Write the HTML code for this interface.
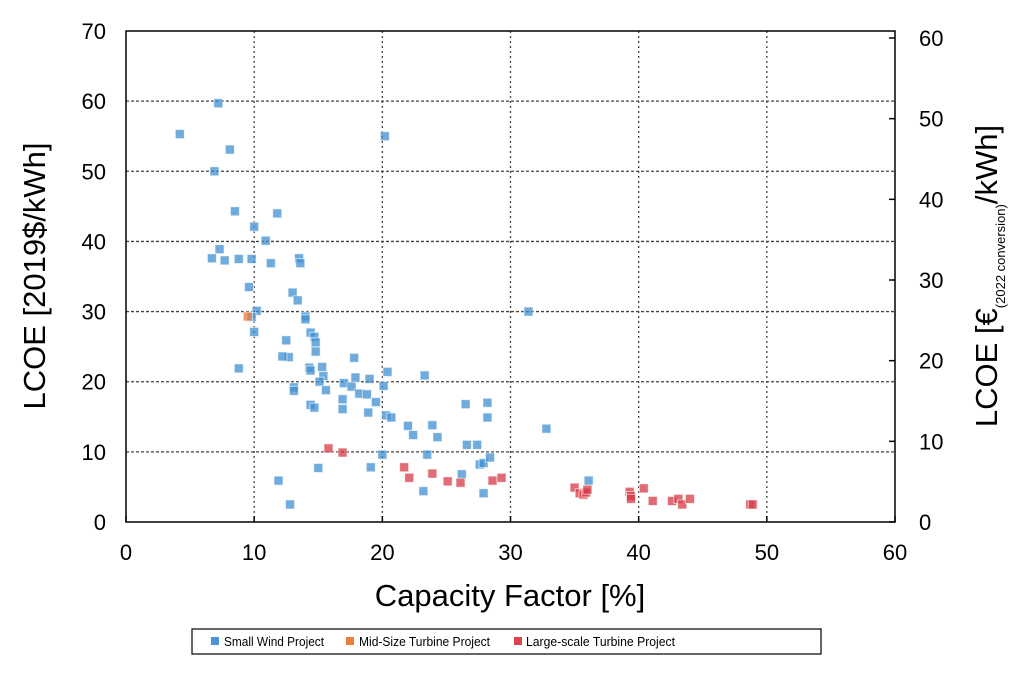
<!DOCTYPE html>
<html><head><meta charset="utf-8"><style>
body{margin:0;background:#fff;font-family:"Liberation Sans",Arial,sans-serif}
svg text{font-family:"Liberation Sans",Arial,sans-serif}
</style></head><body>
<svg id="chart" width="1028" height="679" xmlns="http://www.w3.org/2000/svg">
<g id="grid"></g>
<g id="marks"></g>
<rect x="126" y="31" width="769" height="491" fill="none" stroke="#000" stroke-width="1.5"/>
<g id="axes"></g>
<text x="45" y="276" font-size="31" text-anchor="middle" transform="rotate(-90 45 276)">LCOE [2019$/kWh]</text>
<text x="997" y="276" font-size="31" text-anchor="middle" transform="rotate(-90 997 276)">LCOE [€<tspan font-size="13" dy="8">(2022 conversion)</tspan><tspan dy="-8">/kWh]</tspan></text>
<text x="510" y="606" font-size="31" text-anchor="middle">Capacity Factor [%]</text>
<g>
<rect x="192" y="629" width="629" height="25" fill="#fff" stroke="#000" stroke-width="1.2"/>
<rect x="211" y="637" width="8" height="8" fill="#4a95d6"/>
<text x="224" y="646" font-size="13" textLength="100" lengthAdjust="spacingAndGlyphs">Small Wind Project</text>
<rect x="346" y="637" width="8" height="8" fill="#ea7d3a"/>
<text x="359" y="646" font-size="13" textLength="131" lengthAdjust="spacingAndGlyphs">Mid-Size Turbine Project</text>
<rect x="514" y="637" width="8" height="8" fill="#d9444f"/>
<text x="526" y="646" font-size="13" textLength="149" lengthAdjust="spacingAndGlyphs">Large-scale  Turbine Project</text>
</g>
</svg>
<script>
const xTicks=[0,10,20,30,40,50,60];
const yTicks=[0,10,20,30,40,50,60,70];
const y2Ticks=[0,10,20,30,40,50,60];
const smallX=[4.2,7.2,6.9,8.1,8.5,7.3,6.7,7.7,8.8,9.8,10,10.9,11.8,11.3,13.5,13.6,9.6,13,13.4,14,14,10.2,10,14.4,14.7,14.8,14.8,12.5,12.7,12.2,8.8,14.3,14.4,15.3,15.4,15.1,15.6,13.1,13.1,17,17.8,17.9,17.6,18.2,19,18.8,20.4,20.1,20.3,20.7,19.5,18.9,16.9,16.9,14.4,14.7,23.3,22,22.4,23.9,24.3,26.5,28.2,28.2,26.6,27.4,27.6,27.9,28.4,23.5,20,19.1,15,11.9,12.8,23.2,26.2,27.9,36.1,31.4,32.8,20.2,9.8];
const smallY=[55.3,59.7,50,53.1,44.3,38.9,37.6,37.3,37.5,37.5,42.1,40.1,44,36.9,37.6,36.9,33.5,32.7,31.6,29.3,28.9,30.1,27.1,27,26.4,25.6,24.3,25.9,23.5,23.6,21.9,22,21.6,22.1,20.8,20,18.8,19.2,18.7,19.8,23.4,20.6,19.3,18.3,20.4,18.2,21.4,19.4,15.2,14.9,17.1,15.6,17.5,16.1,16.7,16.3,20.9,13.7,12.4,13.8,12.1,16.8,17,14.9,11,11,8.2,8.4,9.2,9.6,9.6,7.8,7.7,5.9,2.5,4.4,6.8,4.1,5.9,30,13.3,55,29.2];
const midX=[9.5];
const midY=[29.3];
const largeX=[15.8,16.9,21.7,22.1,23.9,25.1,26.1,28.6,29.3,35,35.4,35.7,35.9,36,39.3,39.4,39.4,40.4,41.1,42.6,43.1,43.4,44,48.7,48.9];
const largeY=[10.5,9.9,7.8,6.3,6.9,5.8,5.6,5.9,6.3,4.9,4.1,3.9,4.2,4.6,4.3,3.7,3.3,4.8,3,3,3.3,2.5,3.3,2.5,2.5];
const L=126,R=895,T=31,B=522;
const sx=v=>L+v/60*(R-L);
const sy=v=>B-v/70*(B-T);
const sy2=v=>B-v/60*(B-38);
const NS="http://www.w3.org/2000/svg";
function mk(tag,a,parent){const e=document.createElementNS(NS,tag);for(const k in a)e.setAttribute(k,a[k]);document.getElementById(parent).appendChild(e);return e;}
xTicks.forEach(v=>{
  if(v>0&&v<60){const g=mk('line',{x1:sx(v),x2:sx(v),y1:T,y2:B,stroke:'#444','stroke-width':1.3,'stroke-dasharray':'2,3'},'grid');
  
  }
  const t=mk('text',{x:sx(v),y:B+38,'font-size':22,'text-anchor':'middle'},'axes');t.textContent=v;
  
  
  const k=mk('line',{x1:sx(v),x2:sx(v),y1:B,y2:B-6,stroke:'#000','stroke-width':1.5},'axes');
  
  
});
yTicks.forEach(v=>{
  if(v>0&&v<70){const g=mk('line',{x1:L,x2:R,y1:sy(v),y2:sy(v),stroke:'#444','stroke-width':1.3,'stroke-dasharray':'3,2'},'grid');
  
  }
  const t=mk('text',{x:L-20,y:sy(v)+8,'font-size':22,'text-anchor':'end'},'axes');t.textContent=v;
  
  
});
y2Ticks.forEach(v=>{
  const y=sy2(v);
  const t=mk('text',{x:R+24,y:y+8,'font-size':22,'text-anchor':'start'},'axes');t.textContent=v;
  
  
  const k=mk('line',{x1:R,x2:R-6,y1:y,y2:y,stroke:'#000','stroke-width':1.5},'axes');
  
  
});
function series(xs,ys,fill,name){xs.forEach((x,i)=>{
  const r=mk('rect',{x:sx(x)-4.5,y:sy(ys[i])-4.5,width:9,height:9,fill:fill,'fill-opacity':0.75,stroke:'#fff','stroke-opacity':0.6,'stroke-width':1},'marks');
  
  
});}
series(smallX,smallY,'#3f8fd2','small-wind-point');
series(largeX,largeY,'#d63a46','large-scale-point');
series(midX,midY,'#ea7a36','mid-size-point');
</script>
</body></html>
